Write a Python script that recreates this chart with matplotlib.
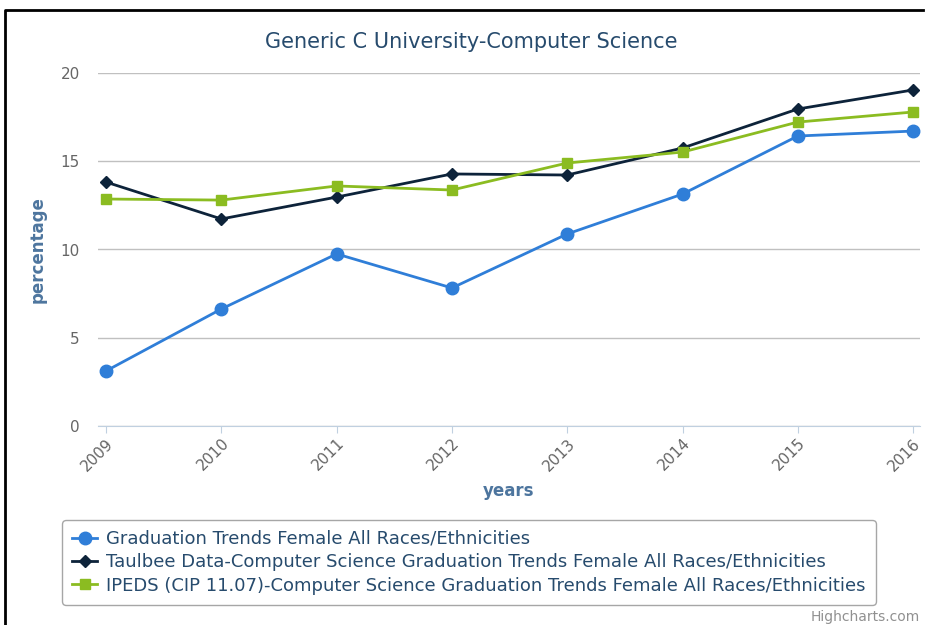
import matplotlib
matplotlib.use("Agg")
import matplotlib.pyplot as plt
from matplotlib.lines import Line2D

# Dane
lata = [2009, 2010, 2011, 2012, 2013, 2014, 2015, 2016]
uczelnia = [3.12, 6.63, 9.75, 7.82, 10.88, 13.14, 16.43, 16.71]
taulbee = [13.82, 11.73, 12.97, 14.28, 14.22, 15.75, 17.96, 19.04]
ipeds = [12.86, 12.80, 13.60, 13.37, 14.90, 15.52, 17.22, 17.79]

etykiety = [
    "Graduation Trends Female All Races/Ethnicities",
    "Taulbee Data-Computer Science Graduation Trends Female All Races/Ethnicities",
    "IPEDS (CIP 11.07)-Computer Science Graduation Trends Female All Races/Ethnicities",
]

plt.rcParams['font.family'] = ['DejaVu Sans']

W, H = 926, 625
fig = plt.figure(figsize=(W / 100, H / 100), dpi=100)

# Ramka: tylko góra i lewa strona widoczne
fig.lines.append(Line2D([5 / W, 5 / W, 923 / W], [0, 1 - 10 / H, 1 - 10 / H],
                        transform=fig.transFigure, color='black', lw=2))

ax = fig.add_axes([98 / W, 1 - 426 / H, 822 / W, 353 / H])

ax.plot(lata, uczelnia, color='#2f7ed8', lw=2, marker='o', ms=9, label=etykiety[0], clip_on=False, zorder=3)
ax.plot(lata, taulbee, color='#0d233a', lw=2, marker='D', ms=6, label=etykiety[1], clip_on=False, zorder=3)
ax.plot(lata, ipeds, color='#8bbc21', lw=2, marker='s', ms=7.5, label=etykiety[2], clip_on=False, zorder=3)

ax.set_xlim(2008.93, 2016.06)
ax.set_ylim(0, 20)
ax.set_yticks([0, 5, 10, 15, 20])
ax.set_xticks(lata)
ax.set_xticklabels([str(r) for r in lata], rotation=45, ha='right', rotation_mode='anchor')

ax.grid(True, axis='y', color='#c0c0c0', lw=1)
ax.set_axisbelow(True)
for s in ['top', 'right', 'left']:
    ax.spines[s].set_visible(False)
ax.spines['bottom'].set_color('#c0d0e0')
ax.tick_params(axis='y', length=0, labelsize=11, labelcolor='#666666', pad=13)
ax.tick_params(axis='x', length=5, color='#c0d0e0', labelsize=11, labelcolor='#666666', pad=2)

ax.set_ylabel('percentage', fontsize=12, fontweight='bold', color='#4d759e', labelpad=10)
ax.set_xlabel('years', fontsize=12, fontweight='bold', color='#4d759e', labelpad=6)

fig.text(471 / W, 1 - 42 / H, 'Generic C University-Computer Science',
         ha='center', va='center', fontsize=15, color='#274b6d')

leg = fig.legend(loc='upper left', bbox_to_anchor=(62 / W, 1 - 520 / H), borderaxespad=0,
                 fontsize=13, frameon=True, fancybox=True, labelcolor='#274b6d',
                 handlelength=1.4, handletextpad=0.5, labelspacing=0.3, borderpad=0.55)
leg.get_frame().set_edgecolor('#909090')
leg.get_frame().set_linewidth(1)

fig.text(920 / W, 1 - 617 / H, 'Highcharts.com', ha='right', va='center', fontsize=10, color='#909090')

plt.savefig('out.png', dpi=100)
